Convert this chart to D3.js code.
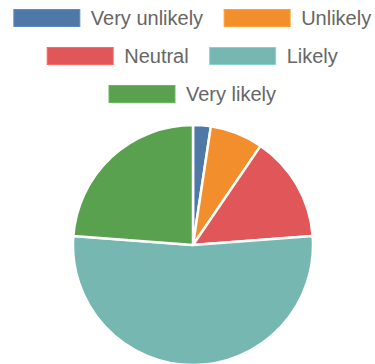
<!DOCTYPE html>
<html>
<head>
<meta charset="utf-8">
<script src="https://cdn.jsdelivr.net/npm/d3@7"></script>
<style>
  html, body { margin: 0; padding: 0; background: #fff; }
  svg { display: block; }
  text { font-family: "Liberation Sans", Arial, Helvetica, sans-serif; }
</style>
</head>
<body>
<svg id="chart" width="375" height="364"></svg>
<script>
// Survey answers and response counts
const categories = ["Very unlikely", "Unlikely", "Neutral", "Likely", "Very likely"];
const counts = [1, 3, 6, 22, 10];
const colors = ["#4e79a7", "#f28e2b", "#e15759", "#76b7b2", "#59a14f"];

const W = 375, H = 364;
const svg = d3.select("#chart");

const color = d3.scaleOrdinal().domain(categories).range(colors);

// ---- Legend (centered rows, wrapped to the width) ----
const boxW = 66, boxH = 17, textGap = 11, itemGap = 21, fontSize = 20;
const rowStart = 18, rowStep = 38, centerX = 192.5;

const legend = svg.append("g").attr("class", "legend");
const items = categories.map(c => {
  const g = legend.append("g");
  g.append("rect")
    .attr("width", boxW).attr("height", boxH)
    .attr("y", -boxH / 2)
    .attr("fill", color(c))
    .attr("stroke", d3.color(color(c)).brighter(0.4))
    .attr("stroke-width", 1);
  const t = g.append("text")
    .attr("x", boxW + textGap)
    .attr("dy", "0.36em")
    .attr("fill", "#666")
    .attr("font-size", fontSize)
    .text(c);
  const w = boxW + textGap + t.node().getComputedTextLength();
  return { g, w };
});

const rows = [];
let cur = [], curW = 0;
items.forEach(it => {
  const add = cur.length ? itemGap + it.w : it.w;
  if (cur.length && curW + add > W) { rows.push({ items: cur, w: curW }); cur = []; curW = 0; }
  curW += cur.length ? itemGap + it.w : it.w;
  cur.push(it);
});
if (cur.length) rows.push({ items: cur, w: curW });

rows.forEach((r, i) => {
  let x = centerX - r.w / 2;
  const y = rowStart + i * rowStep;
  r.items.forEach(it => {
    it.g.attr("transform", `translate(${x},${y})`);
    x += it.w + itemGap;
  });
});

// ---- Pie ----
const cx = 193, cy = 245, radius = 120;
const pie = d3.pie().sort(null).value(d => d.value);
const arc = d3.arc().innerRadius(0).outerRadius(radius);
const data = categories.map((c, i) => ({ label: c, value: counts[i] }));

svg.append("g")
  .attr("transform", `translate(${cx},${cy})`)
  .selectAll("path")
  .data(pie(data))
  .join("path")
  .attr("d", arc)
  .attr("fill", d => color(d.data.label))
  .attr("stroke", "#fff")
  .attr("stroke-width", 2.5)
  .attr("stroke-linejoin", "round");
</script>
</body>
</html>
